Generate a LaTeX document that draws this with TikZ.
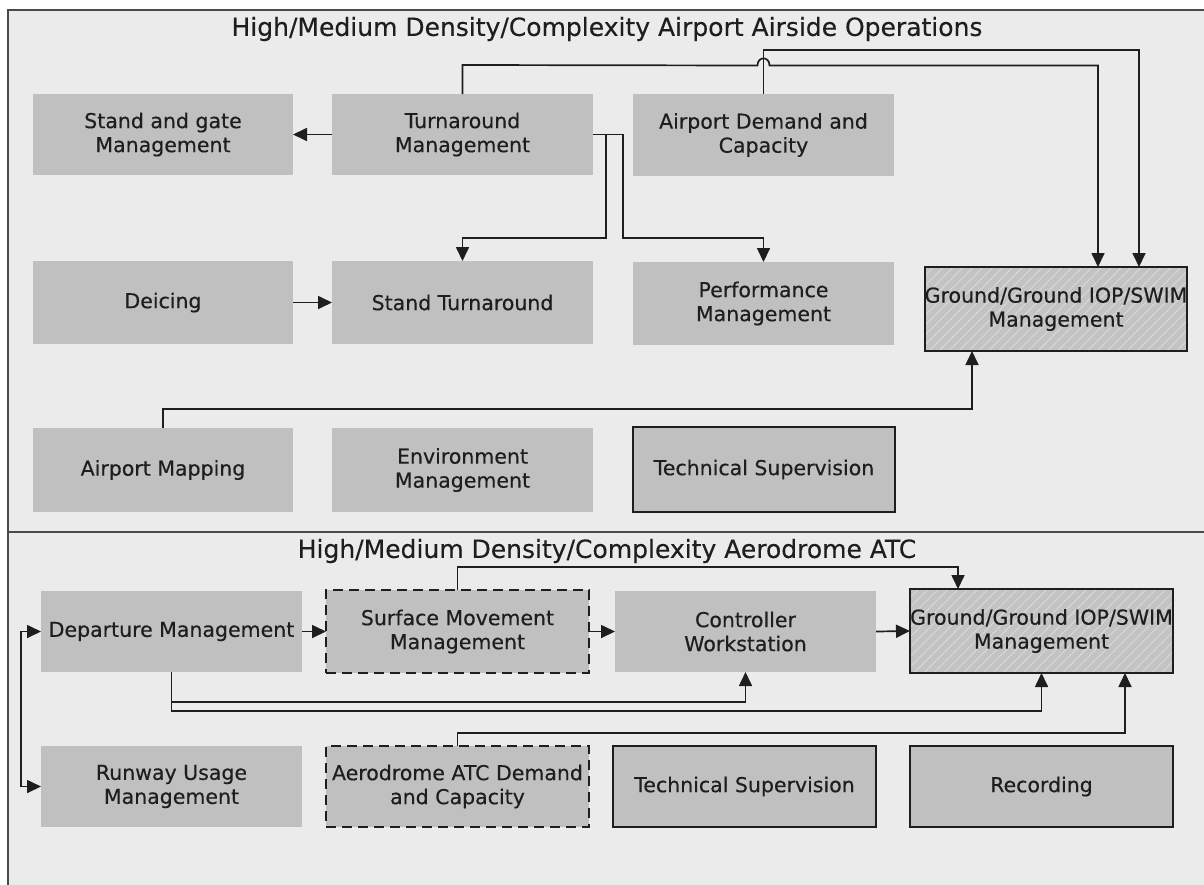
\documentclass[tikz,border=0pt]{standalone}
\usepackage{fontspec}
\setmainfont{DejaVu Sans}[FakeBold=0.4]
\newfontfamily\headfont{DejaVu Sans}[FakeBold=0.25]
\usetikzlibrary{arrows.meta,patterns.meta}
\definecolor{panel}{HTML}{EBEBEB}
\definecolor{boxfill}{HTML}{C0C0C0}
\definecolor{hatchbg}{HTML}{C3C3C3}
\definecolor{hatchln}{HTML}{DADADA}
\definecolor{ink}{HTML}{1E1E1E}
\definecolor{frame}{HTML}{4A4A4A}
\begin{document}
\begin{tikzpicture}[x=1pt,y=-1pt,
  box/.style={rectangle,fill=boxfill,inner sep=0pt,outer sep=0pt,
    minimum width=261pt,minimum height=82pt,align=center,text=ink,
    font=\fontsize{20.5}{24}\selectfont},
  outlined/.style={draw=ink,line width=1.8pt},
  dashedbox/.style={draw=ink,line width=1.8pt,dash pattern=on 10pt off 6pt},
  hatched/.style={draw=ink,line width=1.8pt,preaction={fill=hatchbg},
    pattern={Lines[angle=45,distance=7pt,line width=0.9pt]},pattern color=hatchln},
  conn/.style={draw=ink,line width=1.7pt,-{Triangle[length=14pt,width=13pt]}},
  heading/.style={text=ink,font=\headfont\fontsize{25}{29}\selectfont}]
\useasboundingbox (0,0) rectangle (1204,884);
% panels
\fill[white] (0,0) rectangle (1204,884);
\filldraw[fill=panel,draw=frame,line width=1.5pt] (8,10) rectangle (1220,900);
\draw[frame,line width=1.5pt] (8,532) -- (1220,532);
\node[heading] (title1) at (607,29) {High/Medium Density/Complexity Airport Airside Operations};
\node[heading] (title2) at (607,551) {High/Medium Density/Complexity Aerodrome ATC};

% airside operations
\node[box,minimum width=260pt,minimum height=81pt] (sg) at (163,134.5) {Stand and gate\\Management};
\node[box,minimum height=81pt] (tm) at (462.5,134.5) {Turnaround\\Management};
\node[box] (adc) at (763.5,135) {Airport Demand and\\Capacity};
\node[box,minimum width=260pt,minimum height=83pt] (dei) at (163,302.5) {Deicing};
\node[box,minimum height=83pt] (st) at (462.5,302.5) {Stand Turnaround};
\node[box,minimum height=83pt] (pm) at (763.5,303.5) {Performance\\Management};
\node[box,hatched,minimum width=262pt,minimum height=84pt] (gg1) at (1056,309) {Ground/Ground IOP/SWIM\\Management};
\node[box,minimum width=260pt,minimum height=84pt] (am) at (163,470) {Airport Mapping};
\node[box,minimum height=84pt] (em) at (462.5,470) {Environment\\Management};
\node[box,outlined,minimum width=262pt,minimum height=85pt] (ts1) at (764,469.5) {Technical Supervision};

% aerodrome ATC
\node[box,minimum height=81pt] (dep) at (171.5,631.5) {Departure Management};
\node[box,dashedbox,minimum width=263pt,minimum height=83pt] (smm) at (457.5,631.5) {Surface Movement\\Management};
\node[box,minimum height=81pt] (cw) at (745.5,631.5) {Controller\\Workstation};
\node[box,hatched,minimum width=263pt,minimum height=84pt] (gg2) at (1041.5,631) {Ground/Ground IOP/SWIM\\Management};
\node[box,minimum height=81pt] (rum) at (171.5,786.5) {Runway Usage\\Management};
\node[box,dashedbox,minimum width=263pt,minimum height=81pt] (adcap) at (457.5,786.5) {Aerodrome ATC Demand\\and Capacity};
\node[box,outlined,minimum width=263pt,minimum height=81pt] (ts2) at (744.5,786.5) {Technical Supervision};
\node[box,outlined,minimum width=263pt,minimum height=81pt] (rec) at (1041.5,786.5) {Recording};

% airside connectors
\draw[conn] (tm.west) -- (sg.east);
\draw[conn] (tm.north) -- ++(0,-29) -- (757.5,65.5)
  .. controls (757.5,56) and (769.5,56) .. (769.5,65.5) -| ([xshift=42pt]gg1.north);
\draw[conn] (adc.north) -- ++(0,-44) -| ([xshift=83pt]gg1.north);
\draw[conn] (tm.east) -- ++(13,0) -- ++(0,103.5) -| (st.north);
\draw[conn] (tm.east) -- ++(30,0) -- ++(0,103.5) -| (pm.north);
\draw[conn] (dei.east) -- (st.west);
\draw[conn] (am.north) -- ++(0,-19) -| ([xshift=-84pt]gg1.south);

% aerodrome connectors
\draw[conn] (dep.east) -- (smm.west);
\draw[conn] (smm.east) -- (cw.west);
\draw[conn] (cw.east) -- (gg2.west);
\draw[conn] (smm.north) -- ++(0,-23) -| ([xshift=-83.5pt]gg2.north);
\draw[conn] (dep.south) -- ++(0,30) -| (cw.south);
\draw[conn] (dep.south) -- ++(0,39) -| (gg2.south);
\draw[conn] (adcap.north) -- ++(0,-13) -| ([xshift=83.5pt]gg2.south);
\draw[conn,{Triangle[length=14pt,width=13pt]}-{Triangle[length=14pt,width=13pt]}] (dep.west) -- ++(-20,0) |- (rum.west);
\end{tikzpicture}
\end{document}
